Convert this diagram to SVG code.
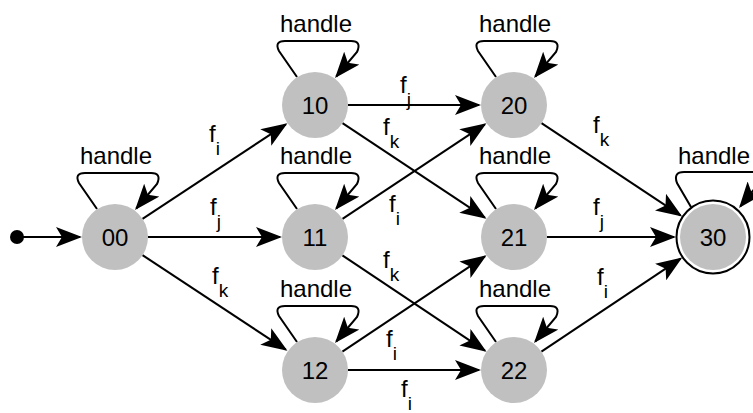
<svg xmlns="http://www.w3.org/2000/svg" width="753" height="413" viewBox="0 0 753 413">
  <style>
    text { font-family: "Liberation Sans", Arial, sans-serif; fill: #000; }
    .node { fill: #c0c0c0; }
    .lbl { font-size: 24px; text-anchor: middle; }
    .loopl { font-size: 24px; text-anchor: middle; }
    .edge { font-size: 24px; }
    .sub { font-size: 19px; }
    .e { fill: none; stroke: #000; stroke-width: 2; marker-end: url(#arr); }
  </style>
  <defs>
    <marker id="arr" viewBox="0 0 26 20" markerWidth="26" markerHeight="20" refX="24" refY="10" orient="auto" markerUnits="userSpaceOnUse">
      <path d="M0,0 L26,10 L0,20 L6,10 Z" fill="#000"/>
    </marker>
  </defs>

  <rect width="753" height="413" fill="#fff"/>

  <!-- connectors -->
  <g id="connectors">
    <!-- initial arrow -->
    <circle cx="17" cy="237" r="7" fill="#000"/>
    <path class="e" d="M17,237 L80,237"/>

    <!-- transitions -->
    <path class="e" d="M142.5,218.8 L285.8,124.3"/>
    <path class="e" d="M148,237 L280,237"/>
    <path class="e" d="M142.5,255.2 L285.8,349.7"/>

    <path class="e" d="M348,105 L479,105"/>
    <path class="e" d="M342.5,123.2 L484.8,217.7"/>
    <path class="e" d="M342.5,218.8 L484.8,124.3"/>
    <path class="e" d="M342.4,255.3 L484.9,350.6"/>
    <path class="e" d="M342.4,351.7 L484.9,256.4"/>
    <path class="e" d="M348,370 L479,370"/>

    <path class="e" d="M541.5,123.2 L680.5,215.4"/>
    <path class="e" d="M547,237 L674,237"/>
    <path class="e" d="M541.4,351.7 L680.6,258.7"/>

    <!-- self loops -->
    <path class="e" transform="translate(115,237)" d="M-18,-28 L-36,-54 Q-41,-64 -30,-64 L36,-64 Q47,-64 42,-53 L21.3,-28.5"/>
    <path class="e" transform="translate(315,105)" d="M-18,-28 L-36,-54 Q-41,-64 -30,-64 L36,-64 Q47,-64 42,-53 L21.3,-28.5"/>
    <path class="e" transform="translate(315,237)" d="M-18,-28 L-36,-54 Q-41,-64 -30,-64 L36,-64 Q47,-64 42,-53 L21.3,-28.5"/>
    <path class="e" transform="translate(315,370)" d="M-18,-28 L-36,-54 Q-41,-64 -30,-64 L36,-64 Q47,-64 42,-53 L21.3,-28.5"/>
    <path class="e" transform="translate(514,105)" d="M-18,-28 L-36,-54 Q-41,-64 -30,-64 L36,-64 Q47,-64 42,-53 L21.3,-28.5"/>
    <path class="e" transform="translate(514,237)" d="M-18,-28 L-36,-54 Q-41,-64 -30,-64 L36,-64 Q47,-64 42,-53 L21.3,-28.5"/>
    <path class="e" transform="translate(514,370)" d="M-18,-28 L-36,-54 Q-41,-64 -30,-64 L36,-64 Q47,-64 42,-53 L21.3,-28.5"/>
    <path class="e" transform="translate(713,237)" d="M-22,-30 L-36,-54 Q-40,-65 -29,-65 L40,-65 Q51,-65 47,-55 L27.3,-30.6"/>

    <!-- transition labels -->
    <text class="edge" x="209" y="142">f<tspan class="sub" dy="13">i</tspan></text>
    <text class="edge" x="210" y="215">f<tspan class="sub" dy="13">j</tspan></text>
    <text class="edge" x="212" y="284">f<tspan class="sub" dy="13">k</tspan></text>

    <text class="edge" x="400" y="93">f<tspan class="sub" dy="13">j</tspan></text>
    <text class="edge" x="383" y="135">f<tspan class="sub" dy="13">k</tspan></text>
    <text class="edge" x="389" y="212">f<tspan class="sub" dy="13">i</tspan></text>
    <text class="edge" x="383" y="268">f<tspan class="sub" dy="13">k</tspan></text>
    <text class="edge" x="386" y="347">f<tspan class="sub" dy="13">i</tspan></text>
    <text class="edge" x="401" y="397">f<tspan class="sub" dy="13">i</tspan></text>

    <text class="edge" x="593" y="133">f<tspan class="sub" dy="13">k</tspan></text>
    <text class="edge" x="593" y="215">f<tspan class="sub" dy="13">j</tspan></text>
    <text class="edge" x="597" y="285">f<tspan class="sub" dy="13">i</tspan></text>

    <!-- loop labels -->
    <text class="loopl" x="116" y="164">handle</text>
    <text class="loopl" x="316" y="32">handle</text>
    <text class="loopl" x="316" y="164">handle</text>
    <text class="loopl" x="316" y="297">handle</text>
    <text class="loopl" x="515" y="32">handle</text>
    <text class="loopl" x="515" y="164">handle</text>
    <text class="loopl" x="515" y="297">handle</text>
    <text class="loopl" x="714" y="164">handle</text>
  </g>

  <!-- states -->
  <g id="n00"><circle class="node" cx="115" cy="237" r="33"/><text class="lbl" x="115" y="246">00</text></g>
  <g id="n10"><circle class="node" cx="315" cy="105" r="33"/><text class="lbl" x="315" y="114">10</text></g>
  <g id="n11"><circle class="node" cx="315" cy="237" r="33"/><text class="lbl" x="315" y="246">11</text></g>
  <g id="n12"><circle class="node" cx="315" cy="370" r="33"/><text class="lbl" x="315" y="379">12</text></g>
  <g id="n20"><circle class="node" cx="514" cy="105" r="33"/><text class="lbl" x="514" y="114">20</text></g>
  <g id="n21"><circle class="node" cx="514" cy="237" r="33"/><text class="lbl" x="514" y="246">21</text></g>
  <g id="n22"><circle class="node" cx="514" cy="370" r="33"/><text class="lbl" x="514" y="379">22</text></g>
  <g id="n30">
    <circle cx="713" cy="237" r="36.5" fill="#fff" stroke="#000" stroke-width="2"/>
    <circle class="node" cx="713" cy="237" r="33"/>
    <text class="lbl" x="713" y="246">30</text>
  </g>
</svg>
